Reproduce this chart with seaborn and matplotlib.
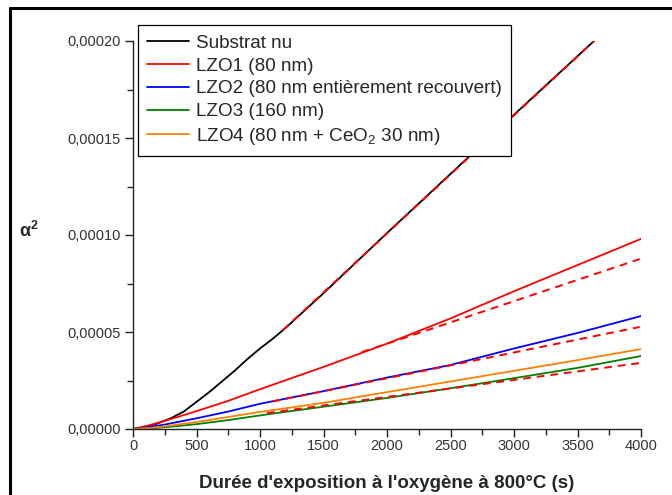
import numpy as np
import pandas as pd
import matplotlib
matplotlib.use('Agg')
import matplotlib.pyplot as plt
import seaborn as sns
from matplotlib.ticker import FuncFormatter, MultipleLocator
from matplotlib.lines import Line2D

# valeurs (alpha^2 en fonction du temps en s)
t_nu = [0, 100, 200, 300, 400, 500, 600, 700, 800, 900, 1000, 1100, 1200, 1500, 2000, 2500, 3000, 3630]
a_nu = [0, 1.0e-6, 3.0e-6, 5.6e-6, 9.0e-6, 1.4e-5, 1.9e-5, 2.45e-5, 3.0e-5, 3.6e-5, 4.15e-5,
        4.65e-5, 5.2e-5, 7.0e-5, 1.01e-4, 1.315e-4, 1.62e-4, 2.0e-4]

t_lzo = [0, 125, 250, 500, 750, 1000, 1500, 2000, 2500, 3000, 3500, 4000]
a_lzo1 = [0, 1.9e-6, 4.2e-6, 9.2e-6, 1.45e-5, 2.05e-5, 3.2e-5, 4.4e-5, 5.7e-5, 7.1e-5, 8.45e-5, 9.8e-5]
a_lzo2 = [0, 1.0e-6, 2.3e-6, 5.5e-6, 9.0e-6, 1.3e-5, 1.95e-5, 2.65e-5, 3.3e-5, 4.15e-5, 4.95e-5, 5.82e-5]
a_lzo3 = [0, 0.3e-6, 0.9e-6, 2.5e-6, 4.6e-6, 7.0e-6, 1.15e-5, 1.6e-5, 2.1e-5, 2.62e-5, 3.15e-5, 3.76e-5]
a_lzo4 = [0, 0.5e-6, 1.4e-6, 3.6e-6, 6.2e-6, 8.8e-6, 1.35e-5, 1.9e-5, 2.45e-5, 3.0e-5, 3.55e-5, 4.12e-5]

# ajustements lineaires (pointilles rouges)
fit_nu_t, fit_nu_a = [1181, 3630], [5.1e-5, 2.0e-4]
fit_1_t, fit_1_a = [1800, 3990], [3.96e-5, 8.76e-5]
fit_2_t, fit_2_a = [1100, 3990], [1.42e-5, 5.26e-5]
fit_3_t, fit_3_a = [1055, 3990], [8.2e-6, 3.4e-5]

labels = ['Substrat nu', 'LZO1 (80 nm)', 'LZO2 (80 nm entièrement recouvert)',
          'LZO3 (160 nm)', 'LZO4 (80 nm + CeO$_2$ 30 nm)']
couleurs = ['black', '#ff0000', '#0000ff', '#008000', '#ff8000']

sns.set_style('ticks')
plt.rcParams['font.family'] = ['Liberation Sans', 'DejaVu Sans']
plt.rcParams['mathtext.fontset'] = 'custom'
plt.rcParams['mathtext.rm'] = 'Liberation Sans'
plt.rcParams['mathtext.bf'] = 'Liberation Sans:bold'
plt.rcParams['mathtext.default'] = 'regular'

fig = plt.figure(figsize=(6.72, 4.95), dpi=100)
ax = fig.add_axes([133/672, 1-429/495, 508/672, 388/495])

series = [(t_nu, a_nu), (t_lzo, a_lzo1), (t_lzo, a_lzo2), (t_lzo, a_lzo3), (t_lzo, a_lzo4)]
for (t, a), lab, c in zip(series, labels, couleurs):
    sns.lineplot(x=t, y=a, color=c, lw=1.3, ax=ax, label=lab)

for ft, fa in [(fit_nu_t, fit_nu_a), (fit_1_t, fit_1_a), (fit_2_t, fit_2_a), (fit_3_t, fit_3_a)]:
    sns.lineplot(x=ft, y=fa, color='#ff0000', lw=1.4, ls=(0, (4, 3)), ax=ax, label='_nolegend_')

ax.set_xlim(0, 4000)
ax.set_ylim(0, 0.0002)
ax.xaxis.set_major_locator(MultipleLocator(500))
ax.xaxis.set_minor_locator(MultipleLocator(250))
ax.yaxis.set_major_locator(MultipleLocator(0.00005))
ax.yaxis.set_minor_locator(MultipleLocator(0.000025))
ax.yaxis.set_major_formatter(FuncFormatter(lambda v, p: f'{v:.5f}'.replace('.', ',')))
ax.tick_params(which='major', length=6, width=1, color='#222222', labelsize=10.5, labelcolor='#333333', pad=3)
ax.tick_params(axis='x', which='major', pad=1)
ax.tick_params(which='minor', length=4, width=1, color='#222222')
sns.despine(ax=ax)
for s in ['left', 'bottom']:
    ax.spines[s].set_linewidth(1.0)
    ax.spines[s].set_color('#222222')

ax.set_xlabel("Durée d'exposition à l'oxygène à 800°C (s)", fontsize=13.5, fontweight='bold', labelpad=16)
ax.set_ylabel('α$^2$', fontsize=13, fontweight='bold', rotation=0, labelpad=0)
ax.yaxis.set_label_coords(-0.205, 0.485)

leg = ax.legend(loc='upper left', bbox_to_anchor=(138/672, 1-25/495), bbox_transform=fig.transFigure,
                fontsize=13.6, frameon=True, fancybox=False, edgecolor='black', framealpha=1,
                borderaxespad=0, handlelength=2.2, handletextpad=0.35, labelspacing=0.3, borderpad=0.5)
leg.get_frame().set_linewidth(0.9)

# cadre autour de la figure
fig.add_artist(Line2D([10/672, 10/672], [0, 1-8/495], transform=fig.transFigure, color='black', lw=2.2))
fig.add_artist(Line2D([10/672, 1], [1-8/495, 1-8/495], transform=fig.transFigure, color='black', lw=2.2))

fig.savefig('out.png', dpi=100)
